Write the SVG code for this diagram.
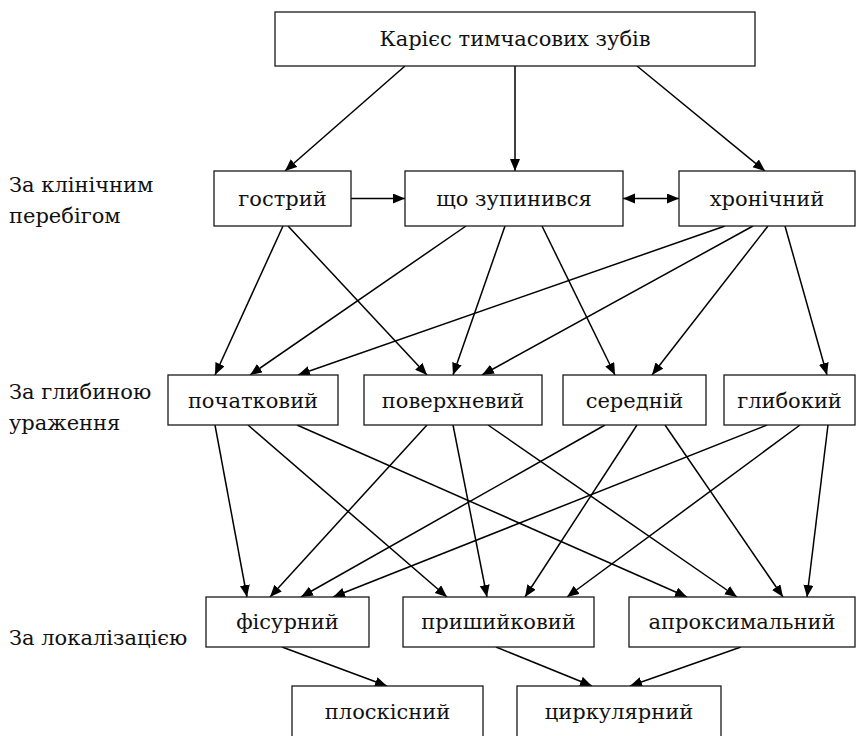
<svg xmlns="http://www.w3.org/2000/svg" width="860" height="736" viewBox="0 0 860 736">
  <style>
    .box { fill: #ffffff; stroke: #1a1a1a; stroke-width: 1.3; }
    text { font-family: "DejaVu Serif", "Liberation Serif", serif; font-size: 21px; fill: #111111; }
    .t { text-anchor: middle; }
    .c { stroke: #000000; stroke-width: 1.5; fill: none; marker-end: url(#ah); }
  </style>
  <defs>
    <marker id="ah" markerUnits="userSpaceOnUse" markerWidth="13" markerHeight="11" refX="12" refY="5" orient="auto-start-reverse">
      <path d="M0,0 L12,5 L0,10 z" fill="#000000"/>
    </marker>
  </defs>
  <rect width="860" height="736" fill="#ffffff"/>

  <!-- row labels -->
  <g id="labels">
    <text x="9" y="192">За клінічним</text>
    <text x="9" y="223">перебігом</text>
    <text x="9" y="399">За глибиною</text>
    <text x="9" y="430">ураження</text>
    <text x="9" y="645">За локалізацією</text>
  </g>

  <!-- connectors -->
  <g id="connectors">
    <line class="c" x1="405" y1="66" x2="285" y2="171"/>
    <line class="c" x1="515" y1="66" x2="515" y2="171"/>
    <line class="c" x1="637" y1="66" x2="765" y2="171"/>
    <line class="c" x1="351" y1="198.5" x2="405" y2="198.5"/>
    <line class="c" x1="623" y1="198.5" x2="679" y2="198.5" marker-start="url(#ah)"/>

    <line class="c" x1="283" y1="226" x2="215" y2="375"/>
    <line class="c" x1="288" y1="226" x2="427" y2="375"/>
    <line class="c" x1="466" y1="226" x2="250" y2="375"/>
    <line class="c" x1="505" y1="226" x2="453" y2="375"/>
    <line class="c" x1="542" y1="226" x2="615" y2="375"/>
    <line class="c" x1="725" y1="226" x2="298" y2="375"/>
    <line class="c" x1="753" y1="226" x2="482" y2="375"/>
    <line class="c" x1="768" y1="226" x2="652" y2="375"/>
    <line class="c" x1="785" y1="226" x2="827" y2="375"/>

    <line class="c" x1="215" y1="425" x2="247" y2="597"/>
    <line class="c" x1="248" y1="425" x2="447" y2="597"/>
    <line class="c" x1="297" y1="425" x2="687" y2="597"/>
    <line class="c" x1="427" y1="425" x2="270" y2="597"/>
    <line class="c" x1="453" y1="425" x2="487" y2="597"/>
    <line class="c" x1="488" y1="425" x2="737" y2="597"/>
    <line class="c" x1="605" y1="425" x2="301" y2="597"/>
    <line class="c" x1="637" y1="425" x2="525" y2="597"/>
    <line class="c" x1="665" y1="425" x2="783" y2="597"/>
    <line class="c" x1="767" y1="425" x2="333" y2="597"/>
    <line class="c" x1="800" y1="425" x2="567" y2="597"/>
    <line class="c" x1="828" y1="425" x2="807" y2="597"/>

    <line class="c" x1="282" y1="647" x2="387" y2="686"/>
    <line class="c" x1="496" y1="647" x2="592" y2="686"/>
    <line class="c" x1="741" y1="647" x2="630" y2="686"/>
  </g>

  <!-- root -->
  <g id="n-root">
    <rect class="box" x="275" y="12" width="480" height="54"/>
    <text class="t" x="515" y="46">Карієс тимчасових зубів</text>
  </g>

  <!-- clinical course -->
  <g id="n-gostryi">
    <rect class="box" x="214" y="171" width="137" height="55"/>
    <text class="t" x="282.5" y="206">гострий</text>
  </g>
  <g id="n-zupynyvsia">
    <rect class="box" x="405" y="171" width="218" height="55"/>
    <text class="t" x="514" y="206">що зупинився</text>
  </g>
  <g id="n-khronichnyi">
    <rect class="box" x="679" y="171" width="176" height="55"/>
    <text class="t" x="767" y="206">хронічний</text>
  </g>

  <!-- depth -->
  <g id="n-pochatkovyi">
    <rect class="box" x="168" y="375" width="170" height="50"/>
    <text class="t" x="253" y="408">початковий</text>
  </g>
  <g id="n-poverkhnevyi">
    <rect class="box" x="364" y="375" width="178" height="50"/>
    <text class="t" x="453" y="408">поверхневий</text>
  </g>
  <g id="n-serednii">
    <rect class="box" x="563" y="375" width="143" height="50"/>
    <text class="t" x="634.5" y="408">середній</text>
  </g>
  <g id="n-hlybokyi">
    <rect class="box" x="724" y="375" width="131" height="50"/>
    <text class="t" x="789.5" y="408">глибокий</text>
  </g>

  <!-- localisation -->
  <g id="n-fisurnyi">
    <rect class="box" x="206" y="597" width="163" height="50"/>
    <text class="t" x="287.5" y="629">фісурний</text>
  </g>
  <g id="n-pryshyikovyi">
    <rect class="box" x="403" y="597" width="191" height="50"/>
    <text class="t" x="498.5" y="629">пришийковий</text>
  </g>
  <g id="n-aproksymalnyi">
    <rect class="box" x="629" y="597" width="226" height="50"/>
    <text class="t" x="742" y="629">апроксимальний</text>
  </g>

  <!-- surface spread -->
  <g id="n-ploskisnyi">
    <rect class="box" x="292" y="686" width="191" height="54"/>
    <text class="t" x="387.5" y="719">плоскісний</text>
  </g>
  <g id="n-tsyrkuliarnyi">
    <rect class="box" x="517" y="686" width="204" height="54"/>
    <text class="t" x="619" y="719">циркулярний</text>
  </g>
</svg>
